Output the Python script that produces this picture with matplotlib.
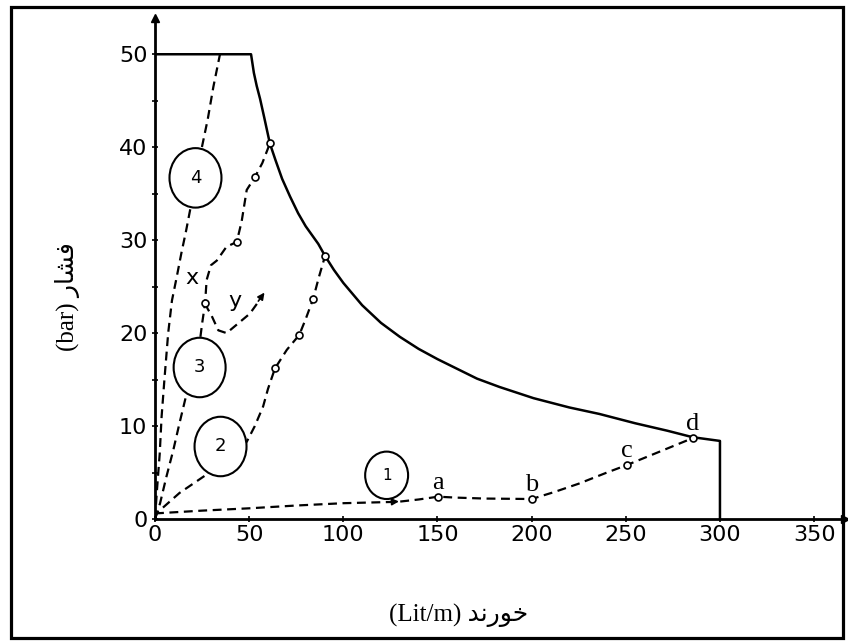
import matplotlib
matplotlib.use("Agg")
import matplotlib.pyplot as plt
from matplotlib.patches import Ellipse, Rectangle

# flow (Lit/m) vs pressure (bar)
env_q = [0, 51, 52.5, 54, 55.8, 58, 61, 64, 67.5, 71.7, 76, 80, 86.7, 90.3, 95,
         100, 110, 120, 130, 140, 150, 160, 171, 183, 201, 220, 236, 255, 272,
         285.5, 300, 300]
env_p = [50, 50, 48.0, 46.6, 45.2, 43.2, 40.4, 38.6, 36.6, 34.7, 32.9, 31.5, 29.6,
         28.3, 26.8, 25.4, 23.0, 21.1, 19.6, 18.3, 17.2, 16.2, 15.1, 14.2, 13.0,
         12.0, 11.3, 10.3, 9.5, 8.8, 8.4, 0]

c1_q = [0, 25, 50, 75, 100, 129, 140, 150.3, 160, 175, 200, 212, 225, 240, 250.5, 265, 285.5]
c1_p = [0.6, 0.9, 1.15, 1.45, 1.7, 1.85, 2.1, 2.4, 2.3, 2.2, 2.15, 2.9, 3.8, 5.0, 5.8, 7.0, 8.7]

c2_q = [0, 1, 13, 27.5, 48.7, 53, 57.4, 60, 63.7, 70, 76.6, 80, 84, 87, 90.3]
c2_p = [0, 0.65, 2.8, 4.8, 8.3, 10, 12.1, 14, 16.2, 18.2, 19.8, 21.5, 23.7, 26, 28.3]

c3_q = [0, 2.7, 6, 9.7, 13, 16.8, 24, 25, 26.6, 27.4, 29.7, 32.8, 38, 43.4, 46,
        48.7, 53.1, 57, 61]
c3_p = [0, 1.7, 4.5, 7.4, 10.3, 13.5, 19.4, 21, 23.2, 25.7, 27.3, 27.8, 29.3, 29.8,
        32, 35.4, 36.8, 38.3, 40.4]

c3y_q = [26.6, 28, 30, 33.6, 38, 45.1, 50.4, 55]
c3y_p = [23.2, 22.6, 21.9, 20.3, 20.0, 21.2, 22.1, 23.4]

c4_q = [0, 1, 2.5, 3.5, 5, 7, 9, 11.5, 14, 16.5, 18.6, 24.8, 28, 31, 34.5]
c4_p = [0, 3, 7, 11, 15, 20, 23.5, 26, 28.6, 31, 33.2, 39.9, 43, 46.5, 50]

pts1_q = [150.3, 200, 250.5, 285.5]
pts1_p = [2.4, 2.15, 5.8, 8.7]
pts1_lbl = ["a", "b", "c", "d"]

pts2_q = [63.7, 76.6, 84, 90.3]
pts2_p = [16.2, 19.8, 23.7, 28.3]
pts3_q = [26.6, 43.4, 53.1, 61]
pts3_p = [23.2, 29.8, 36.8, 40.4]

tag_labels = ["1", "2", "3", "4"]
tag_q = [123, 34.8, 23.7, 21.5]
tag_p = [4.7, 7.8, 16.3, 36.7]

fig = plt.figure(figsize=(8.48, 6.43), dpi=100)
ax = fig.add_axes([155 / 848, 1 - 519 / 643, 690 / 848, 501 / 643])
ax.set_xlim(0, 366.4)
ax.set_ylim(0, 53.9)

for s in ["top", "right"]:
    ax.spines[s].set_visible(False)
for s in ["left", "bottom"]:
    ax.spines[s].set_linewidth(2.0)
ax.plot(1, 0, ">k", ms=6, transform=ax.get_yaxis_transform(), clip_on=False)
ax.plot(0, 1, "^k", ms=6, transform=ax.get_xaxis_transform(), clip_on=False)

ax.set_xticks(range(0, 351, 50))
ax.set_yticks(range(0, 51, 10))
ax.set_yticks(range(5, 50, 10), minor=True)
ax.tick_params(axis="both", which="both", direction="inout", length=5, width=1.2,
               labelsize=16, pad=3)
ax.tick_params(axis="x", pad=2)

dash = dict(color="black", lw=1.6, ls=(0, (4, 2.5)))
ax.plot(env_q, env_p, color="black", lw=1.8, solid_joinstyle="round")
ax.plot(c1_q, c1_p, **dash)
ax.plot(c2_q, c2_p, **dash)
ax.plot(c3_q, c3_p, **dash)
ax.plot(c3y_q, c3y_p, **dash)
ax.plot(c4_q, c4_p, **dash)

# arrows showing the direction of travel
ax.annotate("", xy=(131, 1.9), xytext=(122, 1.8),
            arrowprops=dict(arrowstyle="-|>", color="black", lw=1.2, mutation_scale=10))
ax.annotate("", xy=(59, 24.6), xytext=(54, 23.2),
            arrowprops=dict(arrowstyle="-|>", color="black", lw=1.2, mutation_scale=10))

mk = dict(ls="none", marker="o", ms=5, mfc="white", mec="black", mew=1.2, zorder=4)
ax.plot(pts1_q, pts1_p, **mk)
ax.plot(pts2_q, pts2_p, **mk)
ax.plot(pts3_q, pts3_p, **mk)

for q, p, t in zip(pts1_q, pts1_p, pts1_lbl):
    ax.text(q, p + 1.5, t, ha="center", va="center", fontsize=19,
            family="Liberation Serif")

for i, (q, p, t) in enumerate(zip(tag_q, tag_p, tag_labels)):
    w, h, fs = (22.8, 5.1, 11) if i == 0 else (27.6, 6.4, 13)
    ax.add_patch(Ellipse((q, p), w, h, facecolor="white", edgecolor="black",
                         lw=1.5, zorder=5))
    ax.text(q, p, t, ha="center", va="center", fontsize=fs, zorder=6)

ax.text(19.6, 25.9, "x", ha="center", va="center", fontsize=16)
ax.text(42.5, 23.4, "y", ha="center", va="center", fontsize=16)

fam = ["Liberation Serif", "DejaVu Sans"]
fig.text(68 / 848, 1 - 297 / 643, "(bar) \uFEAD\uFE8E\uFEB8\uFED3", rotation=90,
         ha="center", va="center", fontsize=18, family=fam)
fig.text(459 / 848, 1 - 615 / 643, "(Lit/m) \uFEAA\uFEE7\uFEAD\uFEEE\uFEA7",
         ha="center", va="center", fontsize=18, family=fam)

fig.add_artist(Rectangle((11 / 848, 1 - 638 / 643), 832 / 848, 631 / 643,
                         transform=fig.transFigure, fill=False, ec="black", lw=2.3))

fig.savefig("out.png", dpi=100)
